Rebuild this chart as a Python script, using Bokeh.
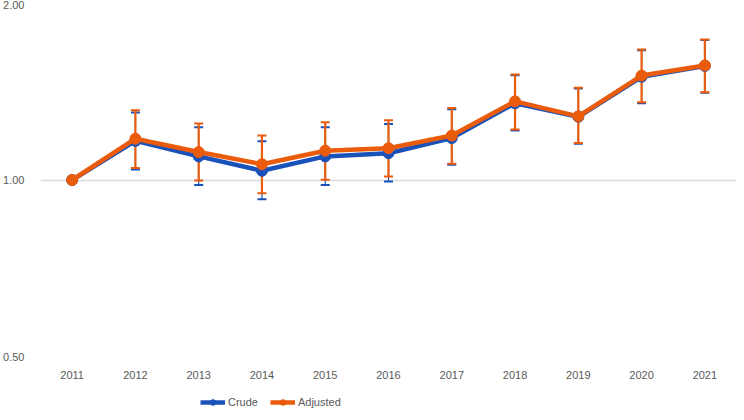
from bokeh.plotting import figure
from bokeh.layouts import column
from bokeh.models import (ColumnDataSource, FactorRange, Range1d, FixedTicker,
                          PrintfTickFormatter, Whisker, TeeHead, Legend, LegendItem)
from bokeh.embed import file_html
from bokeh.resources import INLINE

years = ["2011", "2012", "2013", "2014", "2015", "2016", "2017", "2018", "2019", "2020", "2021"]
crude = [1.00, 1.166, 1.097, 1.037, 1.097, 1.111, 1.179, 1.352, 1.282, 1.500, 1.565]
crude_lo = [1.00, 1.042, 0.981, 0.927, 0.981, 0.994, 1.062, 1.215, 1.153, 1.352, 1.408]
crude_hi = [1.00, 1.304, 1.230, 1.164, 1.230, 1.246, 1.320, 1.509, 1.433, 1.665, 1.733]
adjusted = [1.00, 1.176, 1.116, 1.064, 1.122, 1.133, 1.191, 1.362, 1.284, 1.507, 1.568]
adj_lo = [1.00, 1.048, 0.998, 0.949, 1.001, 1.014, 1.066, 1.219, 1.156, 1.357, 1.411]
adj_hi = [1.00, 1.315, 1.249, 1.191, 1.254, 1.265, 1.327, 1.513, 1.436, 1.670, 1.737]
y_ticks = [0.5, 1.0, 2.0]
series_names = ["Crude", "Adjusted"]

BLUE = "#1A52BA"
ORANGE = "#EA5B0C"
FONT = "Liberation Sans"
TXT = "#595959"

src = ColumnDataSource(dict(x=years, crude=crude, adjusted=adjusted))
err_c = ColumnDataSource(dict(x=years[1:], lo=crude_lo[1:], hi=crude_hi[1:]))
err_a = ColumnDataSource(dict(x=years[1:], lo=adj_lo[1:], hi=adj_hi[1:]))

p = figure(width=736, height=384, output_backend="svg", toolbar_location=None,
           x_range=FactorRange(*years, range_padding=0),
           y_axis_type="log", y_range=Range1d(0.5, 2.0),
           min_border_left=33, min_border_right=0, min_border_top=3, min_border_bottom=28)
p.outline_line_color = None
p.background_fill_color = "white"
p.border_fill_color = "white"

p.xgrid.grid_line_color = None
p.ygrid.grid_line_color = "#D9D9D9"
p.ygrid.grid_line_width = 1.5

p.yaxis.ticker = FixedTicker(ticks=y_ticks, minor_ticks=[])
p.yaxis.formatter = PrintfTickFormatter(format="%.2f")
for ax in (p.xaxis, p.yaxis):
    ax.axis_line_color = None
    ax.major_tick_line_color = None
    ax.minor_tick_line_color = None
    ax.major_label_text_font = FONT
    ax.major_label_text_font_size = "11px"
    ax.major_label_text_color = TXT
p.yaxis.major_label_standoff = 10
p.xaxis.major_label_standoff = 8

wc = Whisker(source=err_c, base="x", lower="lo", upper="hi", dimension="height",
             line_color=BLUE, line_width=1.2,
             upper_head=TeeHead(size=9, line_color=BLUE, line_width=2),
             lower_head=TeeHead(size=9, line_color=BLUE, line_width=2))
p.add_layout(wc)
p.line("x", "crude", source=src, line_color=BLUE, line_width=4.5)
p.scatter("x", "crude", source=src, size=11, fill_color=BLUE, line_color=BLUE)

wa = Whisker(source=err_a, base="x", lower="lo", upper="hi", dimension="height",
             line_color=ORANGE, line_width=2.2,
             upper_head=TeeHead(size=9, line_color=ORANGE, line_width=2),
             lower_head=TeeHead(size=9, line_color=ORANGE, line_width=2))
p.add_layout(wa)
p.line("x", "adjusted", source=src, line_color=ORANGE, line_width=4.5)
p.scatter("x", "adjusted", source=src, size=11, fill_color=ORANGE, line_color=ORANGE)

# legend strip below the chart
lg = figure(width=736, height=28, output_backend="svg", toolbar_location=None,
            x_range=Range1d(0, 1), y_range=Range1d(0, 1),
            x_axis_location=None, y_axis_location=None,
            min_border=0, min_border_left=0, min_border_right=0,
            min_border_top=0, min_border_bottom=0)
lg.outline_line_color = None
lg.xgrid.visible = False
lg.ygrid.visible = False
offscreen = ColumnDataSource(dict(x=[5, 6], y=[5, 6]))
items = []
for name, col in zip(series_names, [BLUE, ORANGE]):
    r1 = lg.line("x", "y", source=offscreen, line_color=col, line_width=4.5)
    r2 = lg.scatter("x", "y", source=offscreen, size=11, fill_color=col, line_color=col)
    items.append(LegendItem(label=name, renderers=[r1, r2]))
legend = Legend(items=items, location=(160, 3), orientation="horizontal",
                label_text_font=FONT, label_text_font_size="11px", label_text_color=TXT,
                glyph_width=25, glyph_height=14, label_height=14, label_standoff=3,
                spacing=12, padding=0, margin=0,
                border_line_color=None, background_fill_alpha=0)
lg.add_layout(legend, "center")

layout = column(p, lg, spacing=0)
open("out.html", "w").write(file_html(layout, INLINE))
